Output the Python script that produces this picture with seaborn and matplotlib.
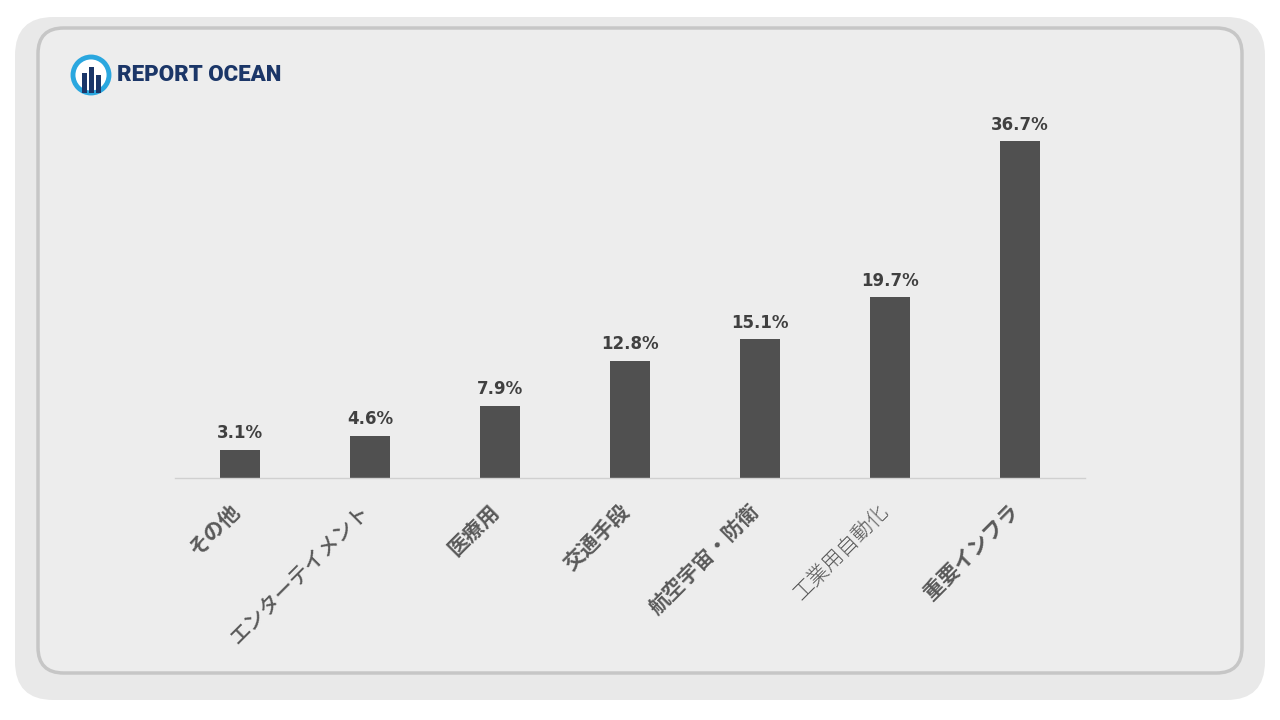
import matplotlib
matplotlib.use("Agg")
import matplotlib.pyplot as plt
import matplotlib.transforms as mtransforms
import seaborn as sns
import pandas as pd
from matplotlib.patches import FancyBboxPatch, Ellipse, Rectangle

categories = ["その他", "エンターテイメント", "医療用", "交通手段", "航空宇宙・防衛", "工業用自動化", "重要インフラ"]
values = [3.1, 4.6, 7.9, 12.8, 15.1, 19.7, 36.7]
value_labels = ["3.1%", "4.6%", "7.9%", "12.8%", "15.1%", "19.7%", "36.7%"]
label_weights = ["bold", "medium", "bold", "bold", "bold", "light", "bold"]

sns.set_theme(style="white")
plt.rcParams['font.family'] = ['Noto Sans CJK JP', 'DejaVu Sans']

W, H = 1280, 720
fig = plt.figure(figsize=(12.8, 7.2), dpi=100)
fig.patch.set_facecolor("white")

def fx(x): return x / W
def fy(y): return 1 - y / H

# outer panel
outer = FancyBboxPatch((fx(15), fy(700)), fx(1250), (700 - 17) / H,
                       boxstyle="round,pad=0,rounding_size=0.03",
                       transform=fig.transFigure, facecolor="#e9e9e9",
                       edgecolor="none", mutation_aspect=W / H, zorder=-3)
fig.patches.append(outer)
inner = FancyBboxPatch((fx(38), fy(673)), fx(1204), (673 - 28) / H,
                       boxstyle="round,pad=0,rounding_size=0.02",
                       transform=fig.transFigure, facecolor="#ededed",
                       edgecolor="#c6c6c6", linewidth=2.5, mutation_aspect=W / H, zorder=-2)
fig.patches.append(inner)

# logo
cx, cy, r = 91, 75, 18
fig.patches.append(Ellipse((fx(cx), fy(cy)), 2 * r / W, 2 * r / H, transform=fig.transFigure,
                           facecolor="#ffffff", edgecolor="#2aa7df", linewidth=3.5, zorder=2))
for bx, bh in [(84, 20), (91, 26), (98, 18)]:
    fig.patches.append(Rectangle((fx(bx - 2.5), fy(cy + 18)), 5 / W, bh / H,
                                 transform=fig.transFigure, facecolor="#1b3668",
                                 edgecolor="none", zorder=3))
fig.text(fx(117), fy(75), "REPORT OCEAN", fontsize=16, fontweight="heavy",
         color="#1b3668", family=["Roboto"], va="center", ha="left",
         fontstretch="condensed")

# axes
ax = fig.add_axes([fx(175), fy(478), fx(1085 - 175), (478 - 111) / H])
ax.set_zorder(1)
ax.set_facecolor("none")
df = pd.DataFrame({"cat": categories, "val": values})
sns.barplot(data=df, x="cat", y="val", color="#505050", width=0.315,
            saturation=1, linewidth=0, ax=ax)
ax.set_ylim(0, 40)
ax.set_xlim(-0.5, len(categories) - 0.5)
for s in ["top", "right", "left"]:
    ax.spines[s].set_visible(False)
ax.spines["bottom"].set_color("#d0d0d0")
ax.spines["bottom"].set_linewidth(1)
ax.set_yticks([])
ax.set_xlabel("")
ax.set_ylabel("")
ax.set_xticks(range(len(categories)))
ax.set_xticklabels([])
ax.tick_params(axis="x", length=0)

# category labels (rotated, anchored at their right end)
lab_tr = ax.get_xaxis_transform() + mtransforms.ScaledTranslation(
    -4 / 100, -30 / 100, fig.dpi_scale_trans)
for i, (c, w) in enumerate(zip(categories, label_weights)):
    ax.text(i, 0, c, transform=lab_tr, rotation=45, rotation_mode="anchor",
            ha="right", va="center", fontsize=15, fontweight=w, color="#595959")

for i, (v, lab) in enumerate(zip(values, value_labels)):
    ax.annotate(lab, (i, v), xytext=(0, 5.5), textcoords="offset points",
                ha="center", va="bottom", fontsize=12, fontweight="bold",
                color="#404040", family=["DejaVu Sans"])

fig.savefig("out.png", dpi=100, facecolor=fig.get_facecolor())
